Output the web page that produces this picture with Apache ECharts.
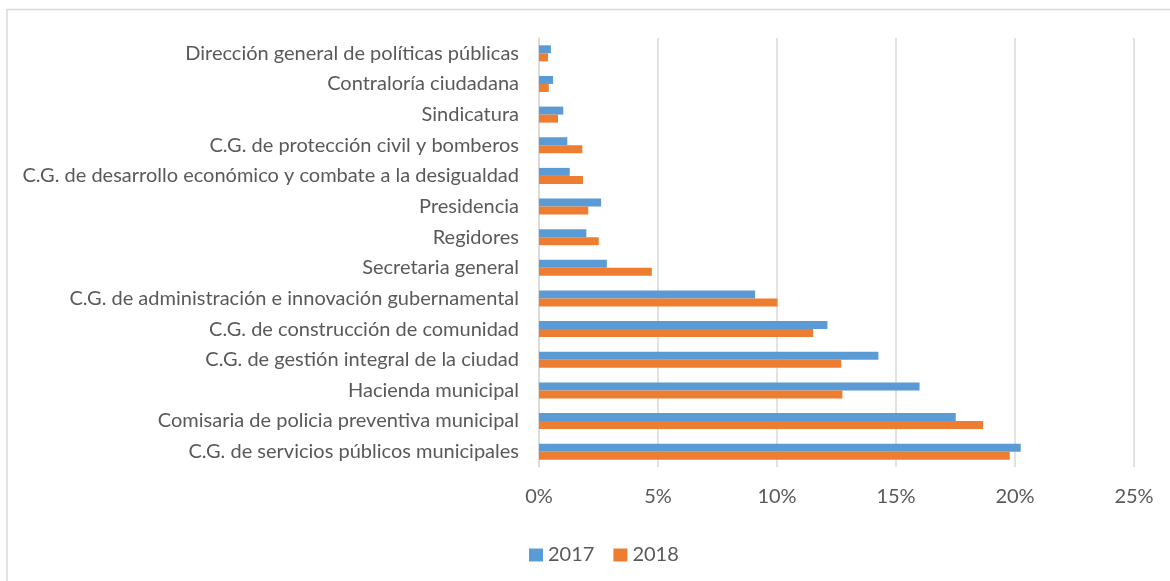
<!DOCTYPE html>
<html>
<head>
<meta charset="utf-8">
<script src="https://cdn.jsdelivr.net/npm/echarts@6/dist/echarts.min.js"></script>
<style>
html,body{margin:0;padding:0;background:#fff;}
#chart{width:1170px;height:581px;}
</style>
</head>
<body>
<div id="chart"></div>
<script>
const categories = [
  "Dirección general de políticas públicas",
  "Contraloría ciudadana",
  "Sindicatura",
  "C.G. de protección civil y bomberos",
  "C.G. de desarrollo económico y combate a la desigualdad",
  "Presidencia",
  "Regidores",
  "Secretaria general",
  "C.G. de administración e innovación gubernamental",
  "C.G. de construcción de comunidad",
  "C.G. de gestión integral de la ciudad",
  "Hacienda municipal",
  "Comisaria de policia preventiva municipal",
  "C.G. de servicios públicos municipales"
];
const values2017 = [0.50, 0.59, 1.02, 1.19, 1.29, 2.61, 1.99, 2.85, 9.08, 12.12, 14.26, 15.99, 17.51, 20.24];
const values2018 = [0.38, 0.41, 0.80, 1.82, 1.85, 2.07, 2.51, 4.74, 10.02, 11.52, 12.70, 12.75, 18.66, 19.78];
const xTicks = [0, 5, 10, 15, 20, 25];
const seriesNames = ["2017", "2018"];

const FONT = "Lato";
const chart = echarts.init(document.getElementById('chart'), null, {renderer: 'canvas'});
chart.setOption({
  animation: false,
  textStyle: {fontFamily: FONT},
  graphic: [
    {type: 'line', shape: {x1: 7, y1: 9.5, x2: 1170, y2: 9.5}, style: {stroke: '#d9d9d9', lineWidth: 1.5}},
    {type: 'line', shape: {x1: 7, y1: 9, x2: 7, y2: 581}, style: {stroke: '#d9d9d9', lineWidth: 1.5}}
  ],
  grid: {left: 539, right: 36, top: 38, bottom: 114, containLabel: false},
  legend: {
    data: seriesNames,
    top: 540,
    left: 524,
    itemWidth: 14, itemHeight: 13, itemGap: 19,
    icon: 'rect',
    textStyle: {fontSize: 20, color: '#595959', fontFamily: FONT}
  },
  xAxis: {
    type: 'value',
    min: xTicks[0], max: xTicks[xTicks.length - 1], interval: 5,
    axisLine: {show: false},
    axisTick: {show: false},
    splitLine: {lineStyle: {color: '#d9d9d9', width: 1.5}},
    axisLabel: {formatter: v => v + '%', fontSize: 20, color: '#595959', margin: 20, fontFamily: FONT}
  },
  yAxis: {
    type: 'category',
    data: categories,
    inverse: true,
    axisLine: {show: true, lineStyle: {color: '#d9d9d9', width: 1.5}},
    axisTick: {show: false},
    axisLabel: {fontSize: 20, color: '#595959', margin: 20, fontFamily: FONT}
  },
  series: [
    {name: seriesNames[0], type: 'bar', data: values2017, barWidth: 8, barGap: '0%', itemStyle: {color: '#5B9BD5'}},
    {name: seriesNames[1], type: 'bar', data: values2018, barWidth: 8, barGap: '0%', itemStyle: {color: '#ED7D31'}}
  ]
});
</script>
</body>
</html>
